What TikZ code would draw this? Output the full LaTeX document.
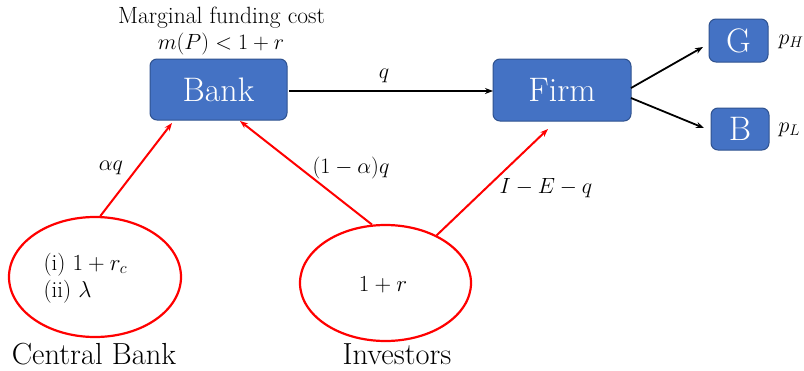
\RequirePackage{fix-cm}
\documentclass[tikz,border=0pt]{standalone}
\usepackage{amsmath}
\usetikzlibrary{shapes.geometric,arrows.meta}
\definecolor{boxblue}{HTML}{4472C4}
\definecolor{boxedge}{HTML}{2F528F}
\definecolor{myred}{HTML}{FF0000}
\begin{document}
\begin{tikzpicture}[x=1pt,y=-1pt,
  bluebox/.style={draw=boxedge,line width=1pt,fill=boxblue,rounded corners=7pt,text=white,inner sep=0pt},
  redell/.style={draw=myred,line width=2.2pt,ellipse,inner sep=0pt},
  blackarrow/.style={line width=1.8pt,-{Stealth[length=8pt,width=6pt]}},
  redarrow/.style={draw=myred,line width=2pt,-{Stealth[length=8pt,width=6pt]}},
  lbl/.style={font=\fontsize{22}{27}\selectfont},
  bigtxt/.style={font=\fontsize{34}{38}\selectfont},
  captxt/.style={font=\fontsize{30.5}{34}\selectfont,inner sep=0pt}]
\useasboundingbox (0,0) rectangle (804,370);
\fill[white] (0,0) rectangle (804,370);
% boxes
\node[bluebox,bigtxt,minimum width=137pt,minimum height=61pt] (bank) at (218.5,89.5) {Bank};
\node[bluebox,bigtxt,minimum width=138pt,minimum height=62pt] (firm) at (562,90) {Firm};
\node[bluebox,bigtxt,minimum width=59pt,minimum height=43pt] (g) at (738.5,40.5) {G};
\node[bluebox,bigtxt,minimum width=58pt,minimum height=42pt] (b) at (740,129) {B};
\node[lbl,anchor=west] (ph) at (775,42) {$p_H$};
\node[lbl,anchor=west] (pl) at (775,130) {$p_L$};
% top labels
\node[font=\fontsize{23.5}{27}\selectfont] (mfc) at (221.5,18) {Marginal funding cost};
\node[lbl] (mp) at (221,44) {$m(P)<1+r$};
% ellipses
\node[redell,minimum width=172pt,minimum height=120pt] (cb) at (95,277) {};
\node[font=\fontsize{23}{27}\selectfont,align=left,anchor=west] (cbtxt) at (40,278) {(i) $1+r_c$\\(ii) $\lambda$};
\node[redell,minimum width=171pt,minimum height=116pt] (inv) at (385.5,283) {};
\node[font=\fontsize{23}{27}\selectfont] (invtxt) at (383,285) {$1+r$};
\node[captxt,anchor=base] (cblbl) at (94,364) {Central Bank};
\node[captxt,anchor=base] (invlbl) at (397,364) {Investors};
% coordinates for arrow ends
\coordinate (firmg) at (631,88);
\coordinate (firmb) at (631,98);
\coordinate (gin) at (703,47);
\coordinate (bin) at (704,128);
\coordinate (bankst) at (289,91);
\coordinate (firmin) at (493,91);
\coordinate (bk1) at (172,123);
\coordinate (bk2) at (240,121);
\coordinate (fm1) at (548,129);
% black arrows
\draw[blackarrow] (bankst) -- (firmin);
\node[lbl] (q) at (384,76) {$q$};
\draw[blackarrow] (firmg) -- (gin);
\draw[blackarrow] (firmb) -- (bin);
% red arrows
\draw[redarrow] (cb.85) -- (bk1);
\node[lbl] (aq) at (111,168) {$\alpha q$};
\draw[redarrow] (inv.103) -- (bk2);
\node[lbl] (oneminus) at (351,168) {$(1-\alpha)q$};
\draw[redarrow] (inv.43) -- (fm1);
\node[lbl] (iemq) at (546,188) {$I-E-q$};
\end{tikzpicture}
\end{document}
